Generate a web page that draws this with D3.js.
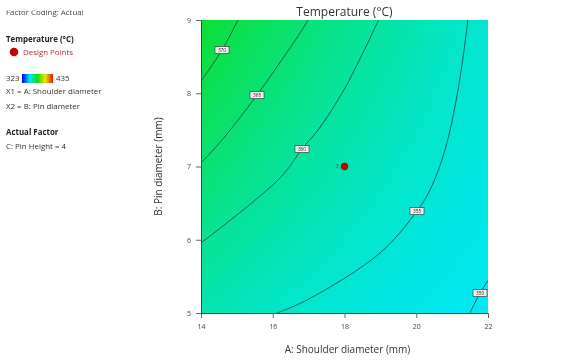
<!DOCTYPE html>
<html><head><meta charset="utf-8">
<script src="https://cdn.jsdelivr.net/npm/d3@7"></script>
<style>
body{margin:0;background:#fff;}
#wrap{position:relative;width:582px;height:360px;overflow:hidden;}
canvas,svg{position:absolute;left:0;top:0;}
text{font-family:"Open Sans",sans-serif;}
</style></head><body>
<div id="wrap"><canvas id="fill" width="582" height="360"></canvas><svg id="chart" width="582" height="360"></svg></div>
<script>
// Factors and axis ticks
const shoulderDomain = [14, 22];
const pinDomain = [5, 9];
const xTicks = [14, 16, 18, 20, 22];
const yTicks = [5, 6, 7, 8, 9];
// Quadratic response-surface coefficients (coded units): 1, A, B, AB, A², B²
const modelCoefs = [359.0, -7.0, 4.885, -2.85, 1.1, -0.1];
// Contour levels with their traced paths (A = shoulder mm, B = pin mm)
const contourLevels = [370, 365, 360, 355, 350];
const contourA = [
  [14.00, 14.585, 15.031],
  [14.00, 14.585, 15.561, 16.815, 16.983],
  [14.00, 16.202, 16.815, 17.261, 18.014, 18.95],
  [16.118, 16.955, 18.99, 20.021, 20.383, 20.80, 21.164, 21.44],
  [21.498, 21.777, 22.00]
];
const contourB = [
  [8.167, 8.590, 9.00],
  [7.048, 7.362, 7.976, 8.863, 9.00],
  [5.956, 6.843, 7.239, 7.498, 8.072, 9.00],
  [5.00, 5.177, 5.819, 6.392, 6.679, 7.225, 8.044, 9.00],
  [5.00, 5.273, 5.44]
];
const tagIndex = [1, 2, 2, 3, 1];
// Design point
const designA = [18];
const designB = [7];
const designCount = [3];
// Colour legend
const colorRange = [323, 435];
const colorStops = ["#0000f8", "#00e8f4", "#10dc10", "#e8e800", "#e41410"];

const plot = {left: 201, right: 488, top: 20, bottom: 313};
const x = d3.scaleLinear().domain(shoulderDomain).range([plot.left, plot.right]);
const y = d3.scaleLinear().domain(pinDomain).range([plot.bottom, plot.top]);

function predict(A, B) {
  const a = (A - 18) / 4, b = (B - 7) / 2;
  const c = modelCoefs;
  return c[0] + c[1]*a + c[2]*b + c[3]*a*b + c[4]*a*a + c[5]*b*b;
}
const color = d3.scaleLinear()
  .domain(d3.range(colorStops.length).map(i => colorRange[0] + i*(colorRange[1]-colorRange[0])/(colorStops.length-1)))
  .range(colorStops).clamp(true);

// Filled surface
const ctx = document.getElementById("fill").getContext("2d");
const img = ctx.createImageData(plot.right - plot.left, plot.bottom - plot.top);
for (let py = 0; py < img.height; py++) {
  for (let px = 0; px < img.width; px++) {
    const A = x.invert(plot.left + px + 0.5), B = y.invert(plot.top + py + 0.5);
    const c = d3.rgb(color(predict(A, B)));
    const k = (py*img.width + px)*4;
    img.data[k] = c.r; img.data[k+1] = c.g; img.data[k+2] = c.b; img.data[k+3] = 255;
  }
}
ctx.putImageData(img, plot.left, plot.top);

const svg = d3.select("#chart");
const defs = svg.append("defs");
defs.append("clipPath").attr("id", "plotclip")
  .append("rect").attr("x", plot.left).attr("y", plot.top)
  .attr("width", plot.right - plot.left).attr("height", plot.bottom - plot.top);

// Contour lines
const line = d3.line().x(d => x(d[0])).y(d => y(d[1])).curve(d3.curveCatmullRom.alpha(0.5));
const cg = svg.append("g").attr("clip-path", "url(#plotclip)");
contourLevels.forEach((lv, i) => {
  const pts = contourA[i].map((A, k) => [A, contourB[i][k]]);
  cg.append("path").attr("d", line(pts)).attr("fill", "none")
    .attr("stroke", "#1f3d3d").attr("stroke-width", 0.8);
});

// Contour tags
contourLevels.forEach((lv, i) => {
  const k = tagIndex[i];
  const g = svg.append("g").attr("transform", `translate(${x(contourA[i][k])},${y(contourB[i][k])})`);
  g.append("rect").attr("x", -7).attr("y", -3.5).attr("width", 14).attr("height", 7)
    .attr("fill", "#f2f2f2").attr("stroke", "#2a2a2a").attr("stroke-width", 0.6);
  g.append("text").attr("text-anchor", "middle").attr("dy", "0.35em")
    .attr("font-size", 4.8).attr("fill", "#222").text(lv);
});

// Design point
designA.forEach((A, i) => {
  svg.append("circle").attr("cx", x(A)).attr("cy", y(designB[i])).attr("r", 3.4)
    .attr("fill", "#c40000").attr("stroke", "#7a0000").attr("stroke-width", 0.6);
  svg.append("text").attr("x", x(A) - 6).attr("y", y(designB[i])).attr("dy", "0.35em")
    .attr("text-anchor", "end").attr("font-size", 5).attr("fill", "#444").text(designCount[i]);
});

// Axes
const xAxis = svg.append("g").attr("transform", `translate(0,${plot.bottom})`)
  .call(d3.axisBottom(x).tickValues(xTicks).tickSize(5).tickPadding(6).tickFormat(d3.format("d")));
const yAxis = svg.append("g").attr("transform", `translate(${plot.left},0)`)
  .call(d3.axisLeft(y).tickValues(yTicks).tickSize(5).tickPadding(5).tickFormat(d3.format("d")));
[xAxis, yAxis].forEach(ax => {
  ax.select(".domain").attr("stroke", "#444").attr("stroke-width", 1);
  ax.selectAll(".tick line").attr("stroke", "#666");
  ax.selectAll(".tick text").attr("font-size", 7).attr("fill", "#444").attr("font-family", "Open Sans, sans-serif");
});

// Titles
svg.append("text").attr("x", (plot.left+plot.right)/2).attr("y", 16).attr("text-anchor", "middle")
  .attr("font-size", 12).attr("fill", "#333").text("Temperature (°C)");
svg.append("text").attr("x", (plot.left+plot.right)/2 + 3).attr("y", 353).attr("text-anchor", "middle")
  .attr("font-size", 10).attr("fill", "#333").text("A: Shoulder diameter (mm)");
svg.append("text").attr("transform", `translate(162,${(plot.top+plot.bottom)/2}) rotate(-90)`)
  .attr("text-anchor", "middle").attr("font-size", 10).attr("fill", "#333").text("B: Pin diameter (mm)");

// Side legend
const fs = 7.9;
const leg = svg.append("g");
defs.append("clipPath").attr("id", "topclip").append("rect").attr("x", 0).attr("y", 10.5).attr("width", 150).attr("height", 200);
leg.append("text").attr("x", 6).attr("y", 15).attr("font-size", fs).attr("fill", "#444")
  .attr("clip-path", "url(#topclip)").text("Factor Coding: Actual");
leg.append("text").attr("x", 6).attr("y", 42).attr("font-size", fs).attr("font-weight", "bold").attr("fill", "#222").text("Temperature (°C)");
leg.append("circle").attr("cx", 14).attr("cy", 52).attr("r", 4.3).attr("fill", "#c40000");
leg.append("text").attr("x", 23).attr("y", 55).attr("font-size", fs).attr("fill", "#b03030").text("Design Points");
const grad = defs.append("linearGradient").attr("id", "lgrad");
colorStops.forEach((c, i) => grad.append("stop").attr("offset", i/(colorStops.length-1)).attr("stop-color", c));
leg.append("text").attr("x", 6).attr("y", 81).attr("font-size", fs).attr("fill", "#333").text(colorRange[0]);
leg.append("rect").attr("x", 22).attr("y", 74).attr("width", 31).attr("height", 9).attr("fill", "url(#lgrad)");
leg.append("text").attr("x", 56).attr("y", 81).attr("font-size", fs).attr("fill", "#333").text(colorRange[1]);
leg.append("text").attr("x", 6).attr("y", 94).attr("font-size", fs).attr("fill", "#333").text("X1 = A: Shoulder diameter");
leg.append("text").attr("x", 6).attr("y", 109).attr("font-size", fs).attr("fill", "#333").text("X2 = B: Pin diameter");
leg.append("text").attr("x", 6).attr("y", 135).attr("font-size", fs).attr("font-weight", "bold").attr("fill", "#222").text("Actual Factor");
leg.append("text").attr("x", 6).attr("y", 149).attr("font-size", fs).attr("fill", "#333").text("C: Pin Height = 4");
</script>
</body></html>
